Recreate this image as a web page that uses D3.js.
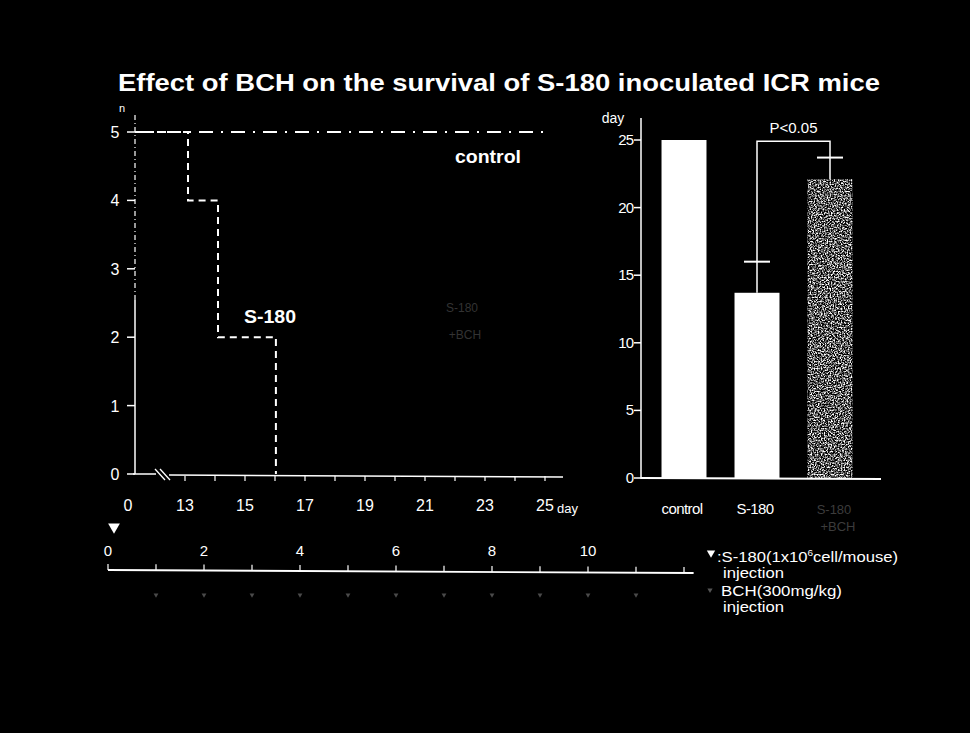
<!DOCTYPE html>
<html><head><meta charset="utf-8">
<script src="https://cdn.jsdelivr.net/npm/d3@7/dist/d3.min.js"></script>
<style>html,body{margin:0;padding:0;background:#000;}svg{display:block;}</style>
</head><body>
<svg id="c" width="970" height="733"></svg>
<script>
// ---------- data ----------
const title = "Effect of BCH on the survival of S-180 inoculated ICR mice";
const survTicks = [0, 13, 15, 17, 19, 21, 23, 25];
const nTicks = [0, 1, 2, 3, 4, 5];
const s180Day = [0, 13.1, 14.1, 16.03];
const s180N = [5, 4, 2, 0];
const controlDay = [0, 25.1];
const controlN = [5, 5];

const barCats = ["control", "S-180", "S-180+BCH"];
const barVals = [25, 13.7, 22.1];
const barErr = [0, 2.3, 1.6];
const barTicks = [0, 5, 10, 15, 20, 25];

const schedTicks = [0, 2, 4, 6, 8, 10];
const schedDays = d3.range(0, 13);
const bchDays = d3.range(1, 12);

// ---------- drawing ----------
const svg = d3.select("#c");
svg.append("rect").attr("width", 970).attr("height", 733).attr("fill", "#000");
const W = "#fff";
const font = "Liberation Sans, Arial, sans-serif";
const SG = "spacingAndGlyphs";

svg.append("text").attr("x", 118).attr("y", 91)
  .attr("font-family", font).attr("font-weight", "bold").attr("font-size", 24)
  .attr("textLength", 762).attr("lengthAdjust", SG)
  .attr("fill", W).text(title);

// ---- left survival chart ----
const x = d3.scaleLinear().domain([0, 12.2, 13, 25]).range([135, 161, 185, 545]);
const y = d3.scaleLinear().domain([0, 5]).range([474, 132]);
const g = svg.append("g");

// y axis
g.append("line").attr("x1", 135).attr("x2", 135).attr("y1", 474).attr("y2", 300)
  .attr("stroke", W).attr("stroke-width", 1.5);
g.append("line").attr("x1", 135).attr("x2", 135).attr("y1", 300).attr("y2", 112)
  .attr("stroke", W).attr("stroke-width", 1.2).attr("stroke-dasharray", "5,3,1,3");
nTicks.forEach(n => {
  g.append("line").attr("x1", 127).attr("x2", 135).attr("y1", y(n)).attr("y2", y(n))
    .attr("stroke", W).attr("stroke-width", 1.5);
  g.append("text").attr("x", 115).attr("y", y(n) + 6).attr("text-anchor", "middle")
    .attr("font-family", font).attr("font-size", 16).attr("fill", W).text(n);
});
g.append("text").attr("x", 122).attr("y", 112).attr("text-anchor", "middle")
  .attr("font-family", font).attr("font-size", 11).attr("fill", W).text("n");

// x axis with break
g.append("line").attr("x1", 133).attr("x2", 156).attr("y1", 474).attr("y2", 474)
  .attr("stroke", W).attr("stroke-width", 1.5);
g.append("line").attr("x1", 169).attr("x2", 563).attr("y1", 475).attr("y2", 477)
  .attr("stroke", W).attr("stroke-width", 1.5);
[[155, 165], [160, 170]].forEach(([a, b]) => {
  g.append("line").attr("x1", a).attr("x2", b).attr("y1", 469).attr("y2", 480)
    .attr("stroke", W).attr("stroke-width", 1.3);
});
d3.range(13, 26).forEach(d => {
  g.append("line").attr("x1", x(d)).attr("x2", x(d)).attr("y1", 476).attr("y2", 481)
    .attr("stroke", W).attr("stroke-width", 1.2);
});
survTicks.forEach(d => {
  g.append("text").attr("x", d === 0 ? 128 : x(d)).attr("y", 511).attr("text-anchor", "middle")
    .attr("font-family", font).attr("font-size", 16).attr("fill", W).text(d);
});
g.append("text").attr("x", 557).attr("y", 513).attr("font-family", font)
  .attr("font-size", 13).attr("fill", W).text("day");

// lines
const line = d3.line().x(p => x(p[0])).y(p => y(p[1]));
g.append("path").datum(controlDay.map((d, i) => [d, controlN[i]]))
  .attr("d", line).attr("fill", "none").attr("stroke", W).attr("stroke-width", 2)
  .attr("stroke-dasharray", "14,8,2,8");
g.append("path").datum(s180Day.map((d, i) => [d, s180N[i]]))
  .attr("d", line.curve(d3.curveStepAfter)).attr("fill", "none").attr("stroke", W)
  .attr("stroke-width", 2).attr("stroke-dasharray", "7,5");

g.append("text").attr("x", 455).attr("y", 163)
  .attr("font-family", font).attr("font-weight", "bold").attr("font-size", 18)
  .attr("textLength", 66).attr("lengthAdjust", SG).attr("fill", W).text("control");
g.append("text").attr("x", 244).attr("y", 323)
  .attr("font-family", font).attr("font-weight", "bold").attr("font-size", 18)
  .attr("textLength", 52).attr("lengthAdjust", SG).attr("fill", W).text("S-180");
g.append("text").attr("x", 462).attr("y", 312).attr("text-anchor", "middle")
  .attr("font-family", font).attr("font-size", 12).attr("fill", "#333").text("S-180");
g.append("text").attr("x", 465).attr("y", 339).attr("text-anchor", "middle")
  .attr("font-family", font).attr("font-size", 12).attr("fill", "#333").text("+BCH");

// ---- right bar chart ----
const defs = svg.append("defs");
const f = defs.append("filter").attr("id", "speck").attr("x", 0).attr("y", 0)
  .attr("width", 1).attr("height", 1);
f.append("feTurbulence").attr("type", "fractalNoise").attr("baseFrequency", 0.7)
  .attr("numOctaves", 2).attr("seed", 5).attr("result", "noise");
f.append("feColorMatrix").attr("in", "noise").attr("type", "matrix")
  .attr("values", "0 0 0 0 1  0 0 0 0 1  0 0 0 0 1  3.2 0 0 0 -1.25").attr("result", "dots");
f.append("feComposite").attr("in", "dots").attr("in2", "SourceGraphic").attr("operator", "in");

const xb = d3.scaleBand().domain(barCats).range([647.5, 866.5])
  .paddingInner(0.384).paddingOuter(0.192);
const yb = d3.scaleLinear().domain([0, 25]).range([478, 140]);
const gb = svg.append("g");

gb.append("line").attr("x1", 641).attr("x2", 641).attr("y1", 479).attr("y2", 118)
  .attr("stroke", W).attr("stroke-width", 1.5);
barTicks.forEach(v => {
  gb.append("line").attr("x1", 634).attr("x2", 641).attr("y1", yb(v)).attr("y2", yb(v))
    .attr("stroke", W).attr("stroke-width", 1.5);
  gb.append("text").attr("x", 633).attr("y", yb(v) + 5).attr("text-anchor", "end")
    .attr("font-family", font).attr("font-size", 15).attr("fill", W)
    .attr("letter-spacing", -1).text(v);
});
gb.append("text").attr("x", 613).attr("y", 123).attr("text-anchor", "middle")
  .attr("font-family", font).attr("font-size", 14).attr("fill", W).text("day");
gb.append("line").attr("x1", 641).attr("x2", 881).attr("y1", 478).attr("y2", 479)
  .attr("stroke", W).attr("stroke-width", 2);

gb.selectAll("rect.bar").data(barCats).enter().append("rect").attr("class", "bar")
  .attr("x", d => xb(d)).attr("width", xb.bandwidth())
  .attr("y", (d, i) => yb(barVals[i])).attr("height", (d, i) => yb(0) - yb(barVals[i]))
  .attr("fill", W)
  .attr("filter", (d, i) => i === 2 ? "url(#speck)" : null);

barCats.forEach((c, i) => {
  if (!barErr[i]) return;
  const cx = xb(c) + xb.bandwidth() / 2, top = yb(barVals[i] + barErr[i]);
  gb.append("line").attr("x1", cx).attr("x2", cx).attr("y1", yb(barVals[i])).attr("y2", top)
    .attr("stroke", W).attr("stroke-width", 1.5);
  gb.append("line").attr("x1", cx - 13).attr("x2", cx + 13).attr("y1", top).attr("y2", top)
    .attr("stroke", W).attr("stroke-width", 2);
});

// significance bracket
const c1 = xb(barCats[1]) + xb.bandwidth() / 2, c2 = xb(barCats[2]) + xb.bandwidth() / 2;
gb.append("path").attr("d", d3.line()([
  [c1, yb(barVals[1] + barErr[1])], [c1, yb(24.9)], [c2, yb(24.9)], [c2, yb(barVals[2] + barErr[2])]
])).attr("fill", "none").attr("stroke", W).attr("stroke-width", 1.5);
gb.append("text").attr("x", (c1 + c2) / 2).attr("y", 133).attr("text-anchor", "middle")
  .attr("font-family", font).attr("font-size", 15).attr("fill", W).text("P<0.05");

barCats.forEach((c, i) => {
  const cx = xb(c) + xb.bandwidth() / 2;
  if (i < 2) {
    gb.append("text").attr("x", cx - 2).attr("y", 514).attr("text-anchor", "middle")
      .attr("font-family", font).attr("font-size", 15).attr("fill", W)
      .attr("letter-spacing", -0.6).text(c);
  } else {
    gb.append("text").attr("x", cx + 4).attr("y", 514).attr("text-anchor", "middle")
      .attr("font-family", font).attr("font-size", 13).attr("fill", "#3c3c3c").text("S-180");
    gb.append("text").attr("x", cx + 8).attr("y", 531).attr("text-anchor", "middle")
      .attr("font-family", font).attr("font-size", 13).attr("fill", "#3c3c3c").text("+BCH");
  }
});

// ---- schedule axis ----
const xs = d3.scaleLinear().domain([0, 10]).range([108, 588]);
const gs = svg.append("g");
const sy = 570;
gs.append("line").attr("x1", xs(0)).attr("x2", xs(12.2)).attr("y1", sy).attr("y2", sy + 3)
  .attr("stroke", W).attr("stroke-width", 1.8);
schedDays.forEach(d => {
  gs.append("line").attr("x1", xs(d)).attr("x2", xs(d)).attr("y1", sy + d * 0.25 - 6).attr("y2", sy + d * 0.25)
    .attr("stroke", W).attr("stroke-width", 1.2);
});
schedTicks.forEach(d => {
  gs.append("text").attr("x", xs(d)).attr("y", 556).attr("text-anchor", "middle")
    .attr("font-family", font).attr("font-size", 15).attr("fill", W).text(d);
});
const tri = d3.symbol().type(d3.symbolTriangle).size(60);
gs.append("path").attr("d", tri()).attr("transform", `translate(${xs(0) + 6},527) rotate(180)`)
  .attr("fill", W);
bchDays.forEach(d => {
  gs.append("path").attr("d", d3.symbol().type(d3.symbolTriangle).size(10)())
    .attr("transform", `translate(${xs(d)},595) rotate(180)`).attr("fill", "#4a4a4a");
});

// legend
gs.append("path").attr("d", d3.symbol().type(d3.symbolTriangle).size(30)())
  .attr("transform", "translate(711,553) rotate(180)").attr("fill", W);
const lt = gs.append("text").attr("x", 717).attr("y", 562).attr("font-family", font)
  .attr("font-size", 15).attr("fill", W).attr("textLength", 181).attr("lengthAdjust", SG);
lt.append("tspan").text(":S-180(1x10");
lt.append("tspan").attr("font-size", 9).attr("dy", -6).text("6");
lt.append("tspan").attr("dy", 6).text("cell/mouse)");
gs.append("text").attr("x", 723).attr("y", 578).attr("font-family", font)
  .attr("font-size", 15).attr("fill", W).attr("textLength", 61).attr("lengthAdjust", SG).text("injection");
gs.append("path").attr("d", d3.symbol().type(d3.symbolTriangle).size(12)())
  .attr("transform", "translate(710,590) rotate(180)").attr("fill", "#555");
gs.append("text").attr("x", 721).attr("y", 596).attr("font-family", font)
  .attr("font-size", 15).attr("fill", W).attr("textLength", 121).attr("lengthAdjust", SG).text("BCH(300mg/kg)");
gs.append("text").attr("x", 723).attr("y", 612).attr("font-family", font)
  .attr("font-size", 15).attr("fill", W).attr("textLength", 61).attr("lengthAdjust", SG).text("injection");
</script>
</body></html>
